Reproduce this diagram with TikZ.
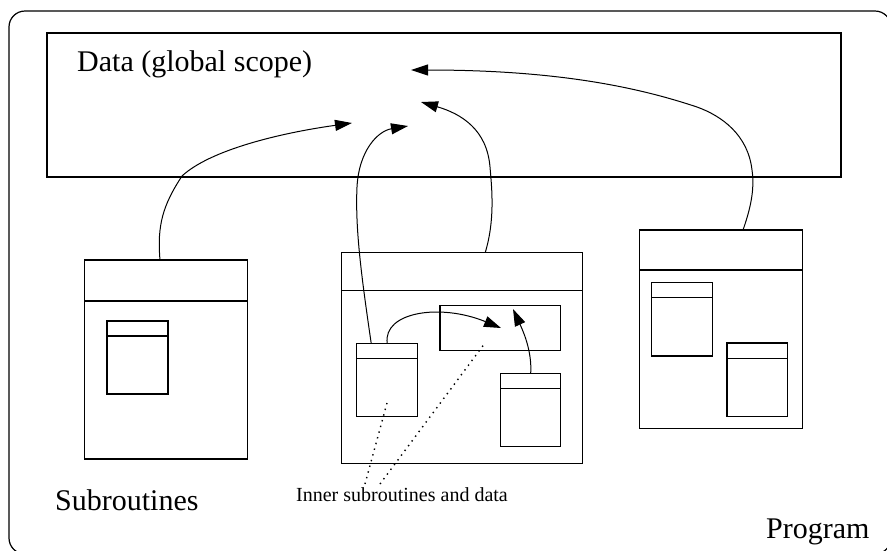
\documentclass[tikz,border=0pt]{standalone}
\usepackage{fontspec}
\setmainfont{Liberation Serif}
\usetikzlibrary{arrows.meta}
\tikzset{
  box/.style={draw, line width=1.2pt, inner sep=0pt, outer sep=0pt, anchor=north west},
  hdr/.style={line width=1.2pt},
  conn/.style={line width=1pt, -{Triangle[length=17pt,width=11pt]}},
  dots/.style={line width=1.4pt, dash pattern=on 1.4pt off 4.5pt},
  big/.style={font=\fontsize{30}{34}\selectfont, inner sep=0pt, anchor=base west},
  small/.style={font=\fontsize{20}{24}\selectfont, inner sep=0pt, anchor=base west}
}
\begin{document}
\begin{tikzpicture}[x=1pt,y=-1pt]
\useasboundingbox (0,0) rectangle (887,550);
% outer program frame
\node[box, rounded corners=16pt, minimum width=882pt, minimum height=543pt] (prog) at (9,11) {};
% global data
\node[box, minimum width=794pt, minimum height=144pt] (data) at (47,33) {};
\node[big] (datalbl) at (77,71) {Data (global scope)};
% left subroutine
\node[box, minimum width=163pt, minimum height=199pt] (subA) at (84.5,260) {};
\draw[hdr] ([yshift=-41pt]subA.north west) -- ([yshift=-41pt]subA.north east);
\node[box, minimum width=61pt, minimum height=73pt] (subAi) at (107,321) {};
\draw[hdr] ([yshift=-15pt]subAi.north west) -- ([yshift=-15pt]subAi.north east);
% middle subroutine
\node[box, minimum width=241pt, minimum height=211pt] (subB) at (341.7,252.7) {};
\draw[hdr] ([yshift=-37.5pt]subB.north west) -- ([yshift=-37.5pt]subB.north east);
\node[box, minimum width=120.7pt, minimum height=45.4pt] (subBd) at (440,305.3) {};
\node[box, minimum width=61pt, minimum height=73.4pt] (subBl) at (356.7,343.3) {};
\draw[hdr] ([yshift=-15pt]subBl.north west) -- ([yshift=-15pt]subBl.north east);
\node[box, minimum width=60pt, minimum height=73.4pt] (subBr) at (500.7,373.3) {};
\draw[hdr] ([yshift=-15.4pt]subBr.north west) -- ([yshift=-15.4pt]subBr.north east);
% right subroutine
\node[box, minimum width=163.4pt, minimum height=198.3pt] (subC) at (639.3,230) {};
\draw[hdr] ([yshift=-40pt]subC.north west) -- ([yshift=-40pt]subC.north east);
\node[box, minimum width=60.6pt, minimum height=73.3pt] (subCa) at (651.7,282.7) {};
\draw[hdr] ([yshift=-15pt]subCa.north west) -- ([yshift=-15pt]subCa.north east);
\node[box, minimum width=60.7pt, minimum height=73.7pt] (subCb) at (727,343) {};
\draw[hdr] ([yshift=-15.3pt]subCb.north west) -- ([yshift=-15.3pt]subCb.north east);
% labels
\node[big] (sublbl) at (55,510) {Subroutines};
\node[big] (proglbl) at (766,538) {Program};
\node[small] (innerlbl) at (296,501.7) {Inner subroutines and data};
% arrow targets
\coordinate (t1) at (352,123);
\coordinate (t2) at (408,126);
\coordinate (t3) at (421,102);
\coordinate (t4) at (411,70);
\coordinate (t5) at (501,328);
\coordinate (t6) at (513,309);
\coordinate (d1) at (387,403);
\coordinate (d2) at (485,343);
\coordinate (e1) at (365,484);
\coordinate (e2) at (380,484);
% connectors
\draw[conn] ([xshift=-6pt]subA.north) .. controls (157,225) and (163,205) .. (182,176)
   .. controls (210,150) and (280,133) .. (t1);
\draw[conn] ([xshift=-16pt]subBl.north) .. controls (362,280) and (355,230) .. (357,187)
   .. controls (359,150) and (378,131) .. (t2);
\draw[conn] ([xshift=23pt]subB.north) .. controls (495,220) and (492,190) .. (490,167)
   .. controls (487,130) and (462,114) .. (t3);
\draw[conn] ([xshift=22pt]subC.north) .. controls (750,210) and (755,190) .. (752,170)
   .. controls (748,135) and (722,116) .. (697,107)
   .. controls (640,88) and (560,70) .. (t4);
\draw[conn] (subBl.north) .. controls (383,312) and (440,303) .. (t5);
\draw[conn] (subBr.north) .. controls (532,352) and (524,333) .. (t6);
% dotted pointers
\draw[dots] (e1) -- (d1);
\draw[dots] (e2) -- (d2);
\end{tikzpicture}
\end{document}
